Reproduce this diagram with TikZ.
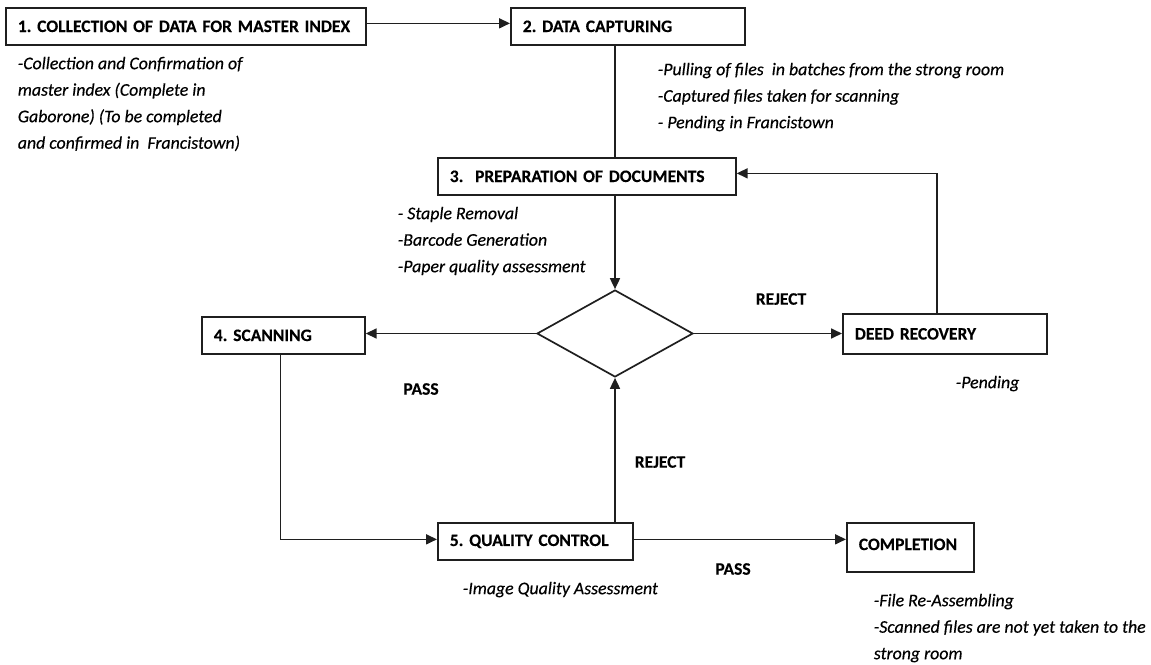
\documentclass[tikz,border=0pt]{standalone}
\usepackage{fontspec}
\setmainfont{Carlito}[
  BoldFeatures={WordSpace=0.85, FakeBold=0.3},
  ItalicFeatures={FakeBold=0.35}]
\frenchspacing
\usetikzlibrary{arrows.meta,shapes.geometric,calc}
\begin{document}
\begin{tikzpicture}[x=1pt,y=-1pt,
  line width=1.7pt, draw=black!88,
  procbox/.style={draw, anchor=north west, inner xsep=12pt, inner ysep=0pt,
    align=left, font=\fontsize{17.5}{20}\selectfont\bfseries},
  note/.style={anchor=north west, align=left, inner sep=0pt,
    font=\fontsize{17.8}{26.5}\selectfont\itshape},
  tag/.style={font=\fontsize{17.5}{20}\selectfont\bfseries, inner sep=0pt},
  arr/.style={-{Triangle[length=11pt,width=10pt]}},
  decision/.style={draw, diamond, aspect=1.8, minimum width=156pt, minimum height=87pt, inner sep=0pt}]
\useasboundingbox (0,0) rectangle (1151,664);

% process boxes
\node[procbox, text width=336pt, minimum height=37pt] (b1) at (5,7) {1. COLLECTION OF DATA FOR MASTER INDEX};
\node[procbox, text width=210pt, minimum height=37pt] (b2) at (510,7) {2. DATA CAPTURING};
\node[procbox, text width=274pt, minimum height=37pt] (b3) at (437,157) {3.\ \ PREPARATION OF DOCUMENTS};
\node[procbox, text width=139pt, minimum height=37pt] (b4) at (201,316) {4. SCANNING};
\node[procbox, text width=180pt, minimum height=40pt] (dr) at (842,313) {DEED RECOVERY};
\node[procbox, text width=171pt, minimum height=37pt] (qc) at (437,522) {5. QUALITY CONTROL};
\node[procbox, text width=103pt, minimum height=49pt, text depth=6pt] (cp) at (846,522) {COMPLETION};
\node[decision] (d) at (615,333.5) {};

% descriptions
\node[note] (n1) at (17,56) {-Collection and Confirmation of\\master index (Complete in\\Gaborone) (To be completed\\and confirmed in\ \ Francistown)};
\node[note] (n2) at (657,62) {-Pulling of files\ \ in batches from the strong room\\-Captured files taken for scanning\\-\ Pending in Francistown};
\node[note] (n3) at (397,206) {-\ Staple Removal\\-Barcode Generation\\-Paper quality assessment};
\node[note] (n4) at (955,375) {-Pending};
\node[note] (n5) at (462,581) {-Image Quality Assessment};
\node[note] (n6) at (873,593) {-File Re-Assembling\\-Scanned files are not yet taken to the\\strong room};

% branch labels
\node[tag] (t1) at (781,299) {REJECT};
\node[tag] (t2) at (421,389) {PASS};
\node[tag] (t3) at (660,462) {REJECT};
\node[tag] (t4) at (733,569) {PASS};

% connectors
\draw[arr] ([yshift=3pt]b1.east) -- ([yshift=3pt]b2.west);
\draw (d.north |- b2.south) -- (d.north |- b3.north);
\draw[arr] (d.north |- b3.south) -- (d.north);
\draw[arr] (d.west) -- (d.west -| b4.east);
\draw[arr] (d.east) -- (d.east -| dr.west);
\draw[arr] ([xshift=-8pt]dr.north) |- ([yshift=3pt]b3.east);
\draw[arr] ([xshift=-3pt]b4.south) |- ([yshift=2pt]qc.west);
\draw[arr] (d.south |- qc.north) -- (d.south);
\draw[arr] ([yshift=2pt]qc.east) -- ([yshift=2pt]qc.east -| cp.west);
\end{tikzpicture}
\end{document}
